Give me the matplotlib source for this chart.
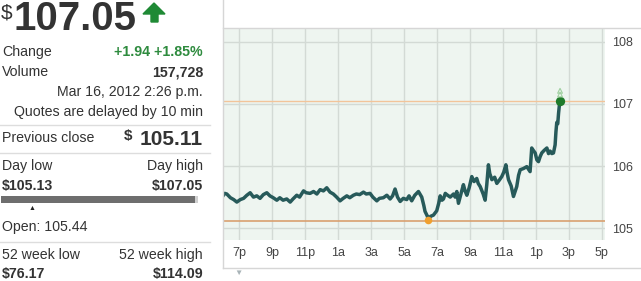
import matplotlib.pyplot as plt
from matplotlib.patches import Polygon, Rectangle
from matplotlib.lines import Line2D

plt.rcParams['font.family'] = ['Liberation Sans', 'DejaVu Sans']

# intraday prices, hours counted from 6p of the previous day
hours = [0.0, 0.1, 0.23, 0.45, 0.65, 0.84, 1.05, 1.25, 1.45, 1.65,
         1.85, 2.05, 2.25, 2.45, 2.66, 2.85, 3.05, 3.27, 3.45, 3.65,
         3.87, 4.08, 4.25, 4.48, 4.65, 4.89, 5.05, 5.29, 5.5, 5.7,
         5.9, 6.1, 6.3, 6.5, 6.7, 6.9, 7.11, 7.3, 7.52, 7.7,
         7.92, 8.1, 8.3, 8.53, 8.7, 8.93, 9.1, 9.34, 9.5, 9.74,
         9.95, 10.15, 10.3, 10.45, 10.6, 10.76, 10.95, 11.16, 11.3, 11.46,
         11.65, 11.87, 12.07, 12.2, 12.27, 12.4, 12.48, 12.6, 12.78, 12.98,
         13.1, 13.19, 13.3, 13.39, 13.5, 13.59, 13.8, 14.0, 14.1, 14.2,
         14.3, 14.45, 14.6, 14.7, 14.81, 14.95, 15.11, 15.25, 15.41, 15.5,
         15.62, 15.8, 15.92, 16.02, 16.12, 16.2, 16.33, 16.5, 16.63, 16.8,
         16.93, 17.05, 17.18, 17.25, 17.34, 17.5, 17.64, 17.75, 17.84, 17.95,
         18.05, 18.25, 18.45, 18.55, 18.65, 18.75, 18.85, 18.96, 19.06, 19.16,
         19.26, 19.36, 19.5, 19.67, 19.77, 19.87, 19.97, 20.07, 20.17, 20.22,
         20.27, 20.33, 20.38, 20.43, 20.47]
prices = [105.52, 105.56, 105.55, 105.49, 105.46, 105.42, 105.46, 105.48, 105.53, 105.57,
          105.50, 105.52, 105.48, 105.54, 105.57, 105.52, 105.49, 105.45, 105.49, 105.45,
          105.47, 105.42, 105.47, 105.53, 105.50, 105.60, 105.57, 105.56, 105.59, 105.55,
          105.62, 105.60, 105.65, 105.58, 105.55, 105.50, 105.44, 105.48, 105.52, 105.49,
          105.53, 105.55, 105.54, 105.58, 105.55, 105.56, 105.50, 105.44, 105.48, 105.49,
          105.53, 105.47, 105.52, 105.63, 105.50, 105.43, 105.48, 105.46, 105.52, 105.44,
          105.53, 105.59, 105.50, 105.36, 105.27, 105.20, 105.13, 105.19, 105.21, 105.28,
          105.40, 105.52, 105.45, 105.47, 105.56, 105.54, 105.50, 105.55, 105.50, 105.59,
          105.40, 105.55, 105.70, 105.60, 105.53, 105.65, 105.83, 105.75, 105.80, 105.72,
          105.67, 105.55, 105.45, 105.70, 106.02, 105.88, 105.78, 105.82, 105.72, 105.78,
          105.83, 105.90, 106.02, 105.90, 105.78, 105.68, 105.51, 105.60, 105.67, 105.85,
          105.94, 105.96, 105.99, 105.95, 105.91, 106.29, 106.25, 106.21, 106.10, 106.07,
          106.15, 106.21, 106.25, 106.29, 106.20, 106.24, 106.20, 106.21, 106.34, 106.55,
          106.70, 106.68, 106.85, 106.98, 107.05]

tick_hours = [1, 3, 5, 7, 9, 11, 13, 15, 17, 19, 21, 23]
tick_labels = ['7p', '9p', '11p', '1a', '3a', '5a', '7a', '9a', '11a', '1p', '3p', '5p']
y_ticks = [105, 106, 107, 108]

prev_close = 105.11
day_high = 107.05
low_hour, low_price = 12.48, 105.13
high_hour, high_price = 20.47, 107.05

W, H = 641, 281
fig = plt.figure(figsize=(W / 100, H / 100), dpi=100)


def fx(px):
    return px / W


def fy(py):
    return 1 - py / H


dark = '#333333'
green = '#2e8b3e'
FS = 10.2

# ---- left quote panel ----
fig.text(fx(1), fy(19), '$', fontsize=15, color=dark, va='baseline')
fig.text(fx(14), fy(30), '107.05', fontsize=29, fontweight='bold', color=dark, va='baseline')
arrow_px = [(143, 14), (154, 3), (165, 14), (158, 14), (158, 22), (151, 22), (151, 14)]
arrow = Polygon([(x / 100, (H - y) / 100) for x, y in arrow_px], closed=True,
                color='#1f8a35', transform=fig.dpi_scale_trans)
fig.add_artist(arrow)

R = 203
fig.text(fx(2), fy(52), 'Change', fontsize=FS, color=dark, va='center')
fig.text(fx(R), fy(52), '+1.94 +1.85%', fontsize=FS, fontweight='bold', color=green,
         va='center', ha='right')
fig.text(fx(2), fy(72), 'Volume', fontsize=FS, color=dark, va='center')
fig.text(fx(R), fy(72), '157,728', fontsize=FS, fontweight='bold', color=dark,
         va='center', ha='right')
fig.text(fx(R), fy(92), 'Mar 16, 2012 2:26 p.m.', fontsize=FS, color=dark,
         va='center', ha='right')
fig.text(fx(R), fy(112), 'Quotes are delayed by 10 min', fontsize=FS, color=dark,
         va='center', ha='right')

for sep in [125, 153, 242]:
    fig.add_artist(Line2D([fx(0), fx(210)], [fy(sep), fy(sep)], color='#dddddd', lw=1))

fig.text(fx(2), fy(138), 'Previous close', fontsize=FS, color=dark, va='center')
fig.text(fx(R), fy(145), '105.11', fontsize=15, fontweight='bold', color=dark,
         va='baseline', ha='right')
fig.text(fx(124), fy(140), '$', fontsize=11, fontweight='bold', color=dark, va='baseline')

fig.text(fx(2), fy(166), 'Day low', fontsize=FS, color=dark, va='center')
fig.text(fx(R), fy(166), 'Day high', fontsize=FS, color=dark, va='center', ha='right')
fig.text(fx(2), fy(186), '$105.13', fontsize=FS, fontweight='bold', color=dark, va='center')
fig.text(fx(R), fy(186), '$107.05', fontsize=FS, fontweight='bold', color=dark,
         va='center', ha='right')
fig.add_artist(Rectangle((fx(1), fy(203)), fx(195) - fx(1), fy(196) - fy(203),
                         transform=fig.transFigure, color='#6e6e6e', lw=0))
fig.add_artist(Rectangle((fx(195), fy(203)), fx(198) - fx(195), fy(196) - fy(203),
                         transform=fig.transFigure, color='#d0d0d0', lw=0))
fig.text(fx(32), fy(208), '\u25b2', fontsize=5, color='#222222', va='center', ha='center')
fig.text(fx(2), fy(227), 'Open: 105.44', fontsize=FS, color=dark, va='center')

fig.text(fx(2), fy(255), '52 week low', fontsize=FS, color=dark, va='center')
fig.text(fx(R), fy(255), '52 week high', fontsize=FS, color=dark, va='center', ha='right')
fig.text(fx(2), fy(274), '$76.17', fontsize=FS, fontweight='bold', color=dark, va='center')
fig.text(fx(R), fy(274), '$114.09', fontsize=FS, fontweight='bold', color=dark,
         va='center', ha='right')

# ---- chart panel frame ----
frame = '#d6d6d6'
fig.add_artist(Line2D([fx(223), fx(223)], [fy(0), fy(268)], color=frame, lw=1))
fig.add_artist(Line2D([fx(223), fx(641)], [fy(28), fy(28)], color=frame, lw=1))
fig.add_artist(Line2D([fx(223), fx(641)], [fy(268), fy(268)], color=frame, lw=1))
fig.text(fx(238), fy(273), '\u25bc', fontsize=6, color='#a9b4b8', va='center', ha='center')

# ---- price chart ----
ax = fig.add_axes([fx(223), fy(240), fx(605) - fx(223), fy(28) - fy(240)])
ax.set_facecolor('#eef5f0')
ax.set_xlim(0.0, 23.2)
ax.set_ylim(104.81, 108.22)

for h in tick_hours:
    ax.axvline(h, color='#d3dad5', lw=1, zorder=1)
for v in y_ticks:
    ax.axhline(v, color='#d3dad5', lw=1, zorder=1)

ax.axhline(day_high, color='#f2c49a', lw=1, zorder=2)
ax.axhline(prev_close, color='#d9a070', lw=1.2, zorder=2)

ax.plot(hours, prices, color='#275a5a', lw=2.5, zorder=3)
ax.scatter([low_hour], [low_price], s=30, color='#f0a030', zorder=4, linewidths=0)
ax.scatter([high_hour], [high_price], s=45, color='#1f7a2a', zorder=4, linewidths=0)
ax.scatter([high_hour, high_hour], [high_price + 0.1, high_price + 0.16], s=12,
           marker='^', facecolors='none', edgecolors='#9fd0a0', linewidths=0.8, zorder=4)

ax.set_xticks(tick_hours)
ax.set_xticklabels(tick_labels)
ax.set_yticks(y_ticks)
ax.yaxis.tick_right()
ax.tick_params(axis='both', length=0, labelsize=9, colors='#444444')
ax.tick_params(axis='x', pad=5)
ax.tick_params(axis='y', pad=5)
for s in ax.spines.values():
    s.set_visible(False)

fig.savefig('out.png', dpi=100)
